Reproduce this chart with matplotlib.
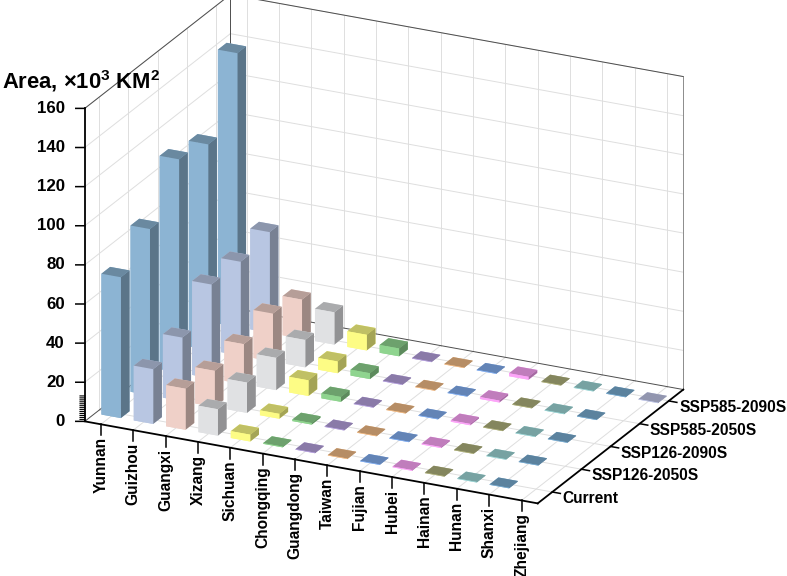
import numpy as np
import matplotlib
matplotlib.use('Agg')
import matplotlib.pyplot as plt
from matplotlib.colors import to_rgb
from mpl_toolkits.mplot3d import proj3d

provinces = ['Yunnan', 'Guizhou', 'Guangxi', 'Xizang', 'Sichuan', 'Chongqing', 'Guangdong',
             'Taiwan', 'Fujian', 'Hubei', 'Hainan', 'Hunan', 'Shanxi', 'Zhejiang']
scenarios = ['Current', 'SSP126-2050S', 'SSP126-2090S', 'SSP585-2050S', 'SSP585-2090S']

current = [72, 28, 21, 13.5, 3.5, 0.4, 0.3, 0.3, 0.3, 0.4, 0.3, 0.3, 0.3, 0]
ssp126_2050 = [85, 32.5, 18.5, 15.5, 2.5, 0.8, 0.3, 0.3, 0.3, 0.5, 0.3, 0.3, 0.3, 0]
ssp126_2090 = [109, 48, 20.5, 16.5, 8, 2.5, 0.3, 0.3, 0.3, 0.7, 0.3, 0.3, 0.3, 0]
ssp585_2050 = [105, 48, 24.5, 14, 6, 3, 0.3, 0.3, 0.3, 1.0, 0.3, 0.3, 0.3, 0]
ssp585_2090 = [140, 51.5, 20, 16.5, 8, 4, 0.3, 0.3, 0.3, 1.5, 0.3, 0.3, 0.3, 0.3]
series = [current, ssp126_2050, ssp126_2090, ssp585_2050, ssp585_2090]

colors = ['#8CB4D3', '#B8C6E2', '#EFD0C8', '#E0E1E3', '#FDFC85', '#8FD48F', '#B5A0DD',
          '#F0BA85', '#82AEF0', '#FCA5F8', '#AEB07C', '#9CD5D5', '#78ABD0', '#C0C6E6']

plt.rcParams['font.family'] = ['Liberation Sans', 'DejaVu Sans']
plt.rcParams['font.weight'] = 'bold'
plt.rcParams['mathtext.fontset'] = 'custom'
plt.rcParams['mathtext.bf'] = 'Liberation Sans:bold'
plt.rcParams['mathtext.rm'] = 'Liberation Sans:bold'

W, H = 787, 576
fig = plt.figure(figsize=(W / 100, H / 100), dpi=100)
ax = fig.add_axes([-20.1 / W, -77.1 / H, 1, W / H], projection='3d', computed_zorder=False)
ax.set_proj_type('ortho')
ax.view_init(elev=22.1, azim=-64.3)
ax.set_box_aspect((503, 336, 338), zoom=0.8542)
ax.set_xlim(-0.5, 13.5, view_margin=0)
ax.set_ylim(-0.5, 4.5, view_margin=0)
ax.set_zlim(0, 160, view_margin=0)
ax.set_axis_off()
ax.patch.set_alpha(0)

x0, x1 = -0.5, 13.5
y0, y1 = -0.5, 4.5
z1 = 160
xt = np.arange(len(provinces))
yt = np.arange(len(scenarios))
zt = np.arange(0, 161, 20)


def label(x, y, z, s, **kw):
    # project by hand, a plain 2D text keeps its rotation
    px, py, _ = proj3d.proj_transform(x, y, z, ax.get_proj())
    ax.text2D(px, py, s, transform=ax.transData, zorder=210, **kw)


grid = dict(color='#DEDEDE', lw=0.7, zorder=1)
for x in xt:
    ax.plot([x, x], [y0, y1], [0, 0], **grid)
    ax.plot([x, x], [y1, y1], [0, z1], **grid)
for y in yt:
    ax.plot([x0, x1], [y, y], [0, 0], **grid)
    ax.plot([x0, x0], [y, y], [0, z1], **grid)
for z in zt[1:]:
    ax.plot([x0, x0], [y0, y1], [z, z], **grid)
    ax.plot([x0, x1], [y1, y1], [z, z], **grid)

# thin frame of the walls
frame = dict(color='#4D4D4D', lw=0.7, zorder=2)
ax.plot([x0, x0], [y0, y1], [z1, z1], **frame)
ax.plot([x0, x1], [y1, y1], [z1, z1], **frame)
ax.plot([x0, x0], [y1, y1], [0, z1], **frame)
ax.plot([x1, x1], [y1, y1], [0, z1], color='#8C8C8C', lw=0.7, zorder=2)
ax.plot([x0, x1], [y1, y1], [0, 0], **frame)
ax.plot([x0, x0], [y0, y1], [0, 0], **frame)

# back rows first, left to right, so nearer bars cover the others
bw, bd = 0.6, 0.3
for j in range(len(scenarios) - 1, -1, -1):
    for i, v in enumerate(series[j]):
        if v <= 0:
            continue
        c = np.array(to_rgb(colors[i]))
        # faces: bottom, top, front, back, left, right
        face = [c, c * 0.76, c, c, c, c * 0.65]
        ax.bar3d(i - bw / 2, j - bd / 2, 0, bw, bd, v, color=[tuple(f) for f in face], shade=False,
                 edgecolor='none', linewidth=0, zorder=10 + (4 - j) * 20 + i)

# heavy axes
axis = dict(color='black', lw=1.3, zorder=200, solid_capstyle='projecting')
ax.plot([x0, x1], [y0, y0], [0, 0], **axis)
ax.plot([x1, x1], [y0, y1], [0, 0], **axis)
ax.plot([x0, x0], [y0, y0], [0, z1], **axis)

tick = dict(color='black', lw=1.1, zorder=200)
for i, name in enumerate(provinces):
    ax.plot([i, i], [y0, y0], [0, -5.6], **tick)
    label(i, y0, -6.5, name, rotation=90, ha='center', va='top', fontsize=11.2)
for j, name in enumerate(scenarios):
    ax.plot([x1, x1 + 0.25], [j, j], [0, 0], **tick)
    label(x1 + 0.32, j, -2.5, name, ha='left', va='center', fontsize=11.2)
for z in zt:
    ax.plot([x0, x0 - 0.225], [y0, y0 - 0.058], [z, z], **tick)
    label(x0 - 0.5, y0 - 0.13, z, str(z), ha='right', va='center', fontsize=12.2)
for z in range(1, 14):
    ax.plot([x0, x0 - 0.12], [y0, y0 - 0.03], [z, z], color='black', lw=0.8, zorder=200)

fig.text(2 / W, 1 - 88 / H, 'Area, ×10$^{\\mathbf{3}}$ KM$^{\\mathbf{2}}$', fontsize=15.8, ha='left', va='baseline')

fig.savefig('out.png', dpi=100)
